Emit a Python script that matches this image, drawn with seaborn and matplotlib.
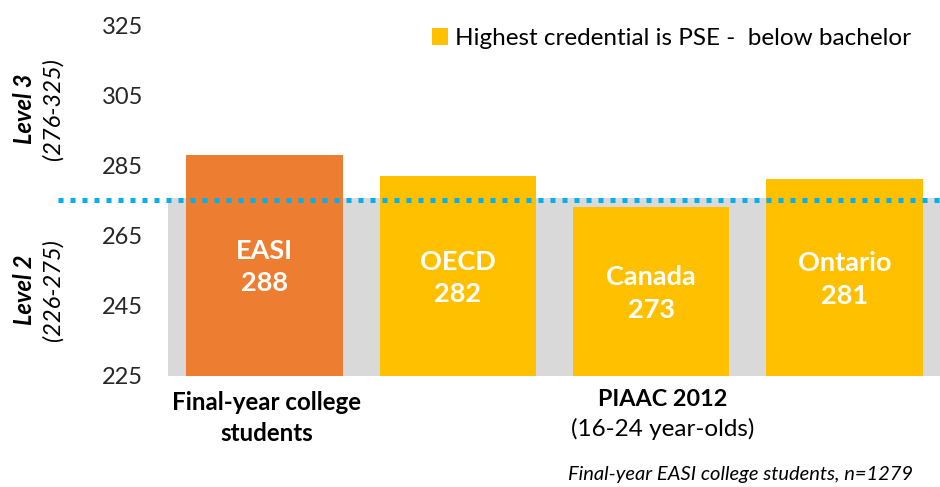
import numpy as np
import pandas as pd
import matplotlib
matplotlib.use("Agg")
import matplotlib.pyplot as plt
from matplotlib.patches import Patch
import seaborn as sns

# === Data ===
GROUPS = ['EASI', 'OECD', 'Canada', 'Ontario']
SCORES = [288, 282, 273, 281]
BAR_COLORS = ['#ED7D31', '#FFC000', '#FFC000', '#FFC000']
LEVEL2_TOP = 275.5      # top of the grey "Level 2" band
LEVEL3_CUT = 275        # dotted threshold line
Y_TICKS = [225, 245, 265, 285, 305, 325]
LEVEL_NAMES = ['Level 3', 'Level 2']
LEVEL_RANGES = ['(276-325)', '(226-275)']
LEVEL_MIDS = [301, 249.5]
LEGEND_LABEL = 'Highest credential is PSE -  below bachelor'
GROUP_LABEL_LEFT = ['Final-year college', 'students']
GROUP_LABEL_RIGHT = 'PIAAC 2012'
GROUP_SUB_RIGHT = '(16-24 year-olds)'
FOOTNOTE = 'Final-year EASI college students, n=1279'

GREY = '#D9D9D9'
BLUE = '#00B0F0'
W, H = 940, 487
AX_LEFT, AX_W, AX_BOTTOM, AX_H = 168, 773, 375.5, 350.5


def px_to_axy(ypx):
    # pixel row (from top) -> axes fraction
    return (AX_BOTTOM - ypx) / AX_H


# === Style ===
sns.set_theme(style='white')
plt.rcParams['font.family'] = ['Lato', 'DejaVu Sans']
plt.rcParams['text.color'] = '#000000'

fig = plt.figure(figsize=(W / 100, H / 100), dpi=100)
ax = fig.add_axes([AX_LEFT / W, 1 - AX_BOTTOM / H, AX_W / W, AX_H / H])

df = pd.DataFrame({'group': GROUPS, 'score': SCORES, 'band': [LEVEL2_TOP] * len(GROUPS)})

# grey band behind the bars
sns.barplot(data=df, x='group', y='band', color=GREY, width=1.0, saturation=1,
            linewidth=0, ax=ax, zorder=1)
# score bars
sns.barplot(data=df, x='group', y='score', hue='group', palette=BAR_COLORS,
            width=0.81, saturation=1, linewidth=0, legend=False, ax=ax, zorder=2)

ax.set_xlim(-0.5, len(GROUPS) - 0.5)
ax.set_ylim(Y_TICKS[0], Y_TICKS[-1])
ax.set_yticks(Y_TICKS)
ax.set_xticks([])
ax.set_xlabel('')
ax.set_ylabel('')
ax.tick_params(axis='y', length=0, pad=18, labelsize=17)
sns.despine(ax=ax, left=True, bottom=True)

# dotted level-3 threshold, runs into the label margin
ax.axhline(LEVEL3_CUT, xmin=(58 - AX_LEFT) / AX_W, xmax=1, color=BLUE, lw=3.6,
           linestyle=(0, (1, 1.4)), dash_capstyle='butt', clip_on=False, zorder=3)

# labels inside bars
for i, (g, s) in enumerate(zip(GROUPS, SCORES)):
    ax.text(i, (s + Y_TICKS[0]) / 2 - 0.6, f'{g}\n{s}', ha='center', va='center',
            color='white', fontsize=19.5, fontweight='bold', linespacing=1.42, zorder=4)

# level annotations on the left
ytr = ax.get_yaxis_transform()
for name, rng, mid in zip(LEVEL_NAMES, LEVEL_RANGES, LEVEL_MIDS):
    ax.text((25 - AX_LEFT) / AX_W, mid, name, transform=ytr, rotation=90, ha='center',
            va='center', fontsize=17, fontweight='bold', style='italic')
    ax.text((53 - AX_LEFT) / AX_W, mid, rng, transform=ytr, rotation=90, ha='center',
            va='center', fontsize=17, style='italic')

# category captions below the axis
xtr = ax.get_xaxis_transform()
ax.text(0.01, px_to_axy(410), GROUP_LABEL_LEFT[0], transform=xtr, ha='center',
        va='baseline', fontsize=17.4, fontweight='bold')
ax.text(0.01, px_to_axy(441), GROUP_LABEL_LEFT[1], transform=xtr, ha='center',
        va='baseline', fontsize=17.4, fontweight='bold')
ax.text(2.06, px_to_axy(406), GROUP_LABEL_RIGHT, transform=xtr, ha='center',
        va='baseline', fontsize=16.8, fontweight='bold')
ax.text(2.06, px_to_axy(436), GROUP_SUB_RIGHT, transform=xtr, ha='center',
        va='baseline', fontsize=17.5)

fig.text(913 / W, 1 - 480 / H, FOOTNOTE, ha='right', va='baseline', fontsize=14.5,
         style='italic')

# legend
ax.legend(handles=[Patch(facecolor='#FFC000', edgecolor='none', label=LEGEND_LABEL)],
          loc='center left', bbox_to_anchor=(432 / W, 1 - 38.5 / H),
          bbox_transform=fig.transFigure, frameon=False, fontsize=17.5,
          borderpad=0, borderaxespad=0, handlelength=0.66, handleheight=0.66,
          handletextpad=0.3)

fig.savefig('out.png', dpi=100)
